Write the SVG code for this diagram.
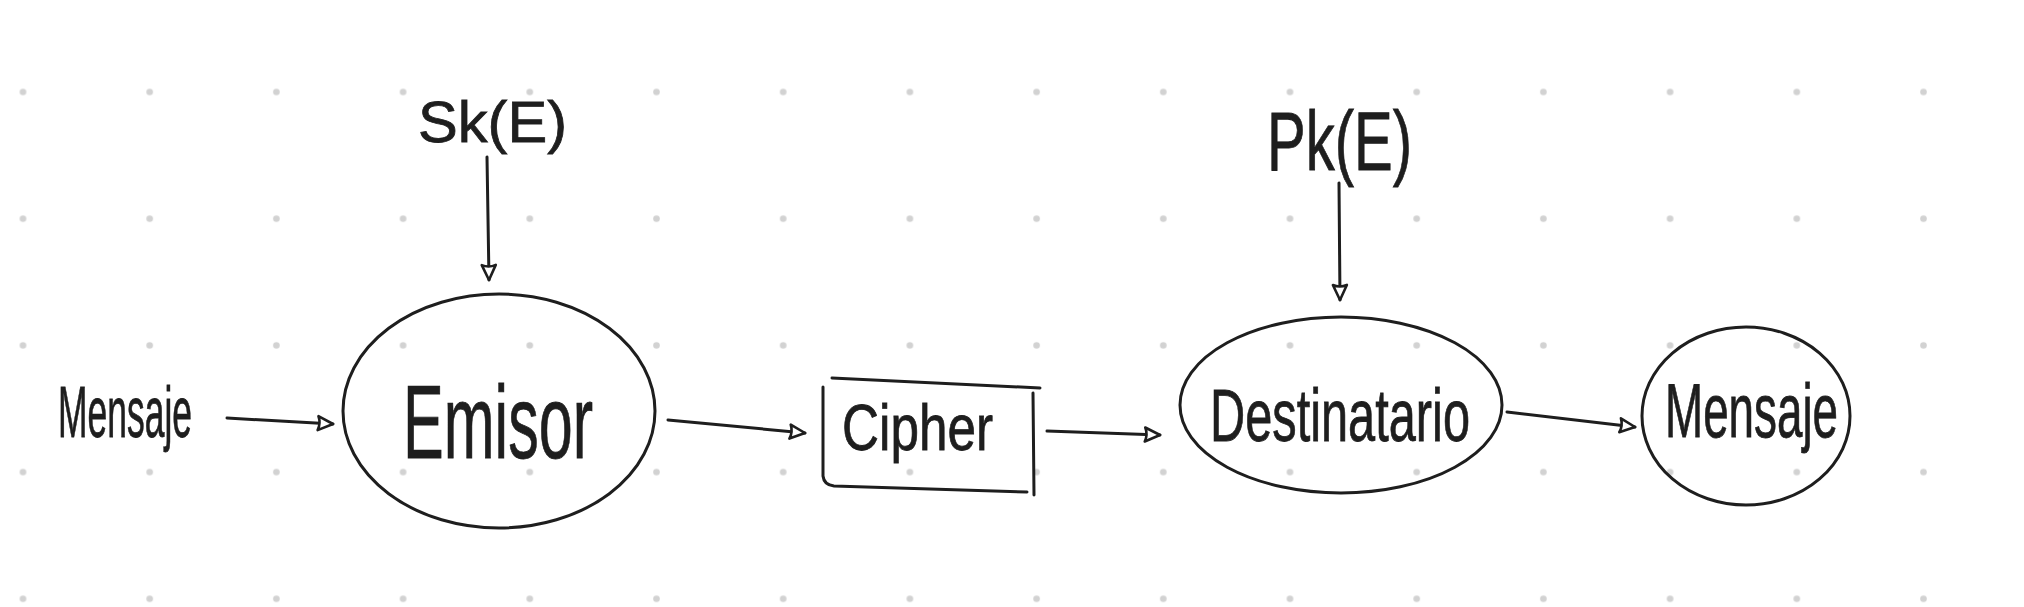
<svg xmlns="http://www.w3.org/2000/svg" width="2024" height="607" viewBox="0 0 2024 607">
<style>
.shape{fill:none;stroke:#1e1e1e;stroke-width:3;stroke-linecap:round;stroke-linejoin:round}
.conn{fill:none;stroke:#1e1e1e;stroke-width:3;stroke-linecap:round}
.lbl{font-family:"Liberation Sans",Arial,sans-serif;fill:#1e1e1e;stroke:#1e1e1e;stroke-width:0.8}
</style>
<defs>
<pattern id="grid" patternUnits="userSpaceOnUse" x="-40.35" y="28.65" width="126.7" height="126.7">
<circle cx="63.35" cy="63.35" r="3.3" fill="#d2d2d2"/>
</pattern>
<marker id="arr" viewBox="0 0 20 20" refX="18" refY="10" markerWidth="20" markerHeight="20" markerUnits="userSpaceOnUse" orient="auto">
<path d="M3,3 L18,10 L3,17 Q6,10 3,3 Z" fill="#fff" stroke="#1e1e1e" stroke-width="2.6" stroke-linejoin="round"/>
</marker>
</defs>
<rect width="2024" height="607" fill="#ffffff"/>
<rect width="2024" height="607" fill="url(#grid)"/>

<g id="connectors">
<path class="conn" d="M227,418 L333,424" marker-end="url(#arr)"/>
<path class="conn" d="M487,157 L489,280" marker-end="url(#arr)"/>
<path class="conn" d="M668,420 L805,433" marker-end="url(#arr)"/>
<path class="conn" d="M1047,431 L1160,435" marker-end="url(#arr)"/>
<path class="conn" d="M1339,183 L1340,300" marker-end="url(#arr)"/>
<path class="conn" d="M1507,412 L1635,427" marker-end="url(#arr)"/>
</g>

<g id="mensaje-in">
<text class="lbl" x="58" y="437" font-size="72" textLength="134" lengthAdjust="spacingAndGlyphs">Mensaje</text>
</g>

<g id="sk">
<text class="lbl" x="418" y="142" font-size="58" textLength="149" lengthAdjust="spacingAndGlyphs">Sk(E)</text>
</g>

<g id="emisor">
<ellipse class="shape" cx="499" cy="411" rx="156" ry="117"/>
<text class="lbl" x="403" y="458" font-size="104" textLength="190" lengthAdjust="spacingAndGlyphs">Emisor</text>
</g>

<g id="cipher">
<path class="shape" d="M832,378 L1040,388 M1033,393 L1034,495 M1027,492 L834,486 Q824,485 823,476 L823,387"/>
<text class="lbl" x="842" y="450" font-size="64" textLength="151" lengthAdjust="spacingAndGlyphs">Cipher</text>
</g>

<g id="pk">
<text class="lbl" x="1267" y="170" font-size="84" textLength="145" lengthAdjust="spacingAndGlyphs">Pk(E)</text>
</g>

<g id="destinatario">
<ellipse class="shape" cx="1341" cy="405" rx="161" ry="88"/>
<text class="lbl" x="1210" y="441" font-size="74" textLength="260" lengthAdjust="spacingAndGlyphs">Destinatario</text>
</g>

<g id="mensaje-out">
<ellipse class="shape" cx="1746" cy="416" rx="104" ry="89"/>
<text class="lbl" x="1665" y="437" font-size="76" textLength="173" lengthAdjust="spacingAndGlyphs">Mensaje</text>
</g>
</svg>
